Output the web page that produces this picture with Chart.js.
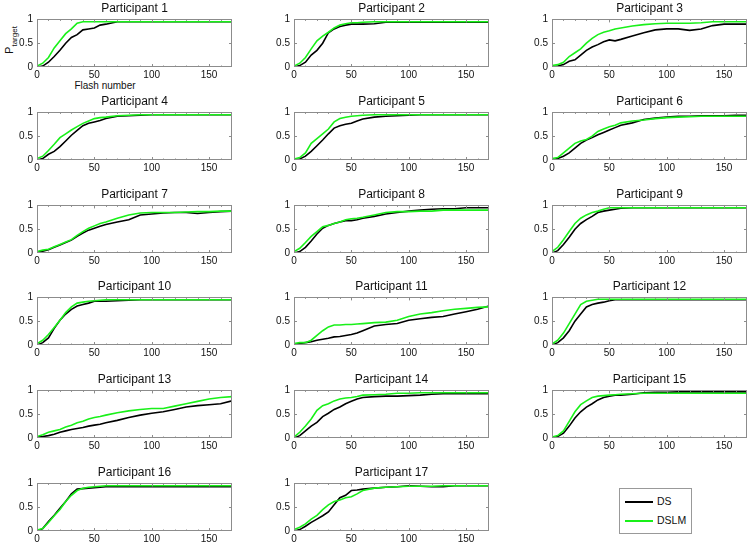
<!DOCTYPE html>
<html>
<head>
<meta charset="utf-8">
<script src="https://cdn.jsdelivr.net/npm/chart.js@4.4.0/dist/chart.umd.min.js"></script>
<style>
  body { margin: 0; background: #fff; overflow: hidden; font-family: "Liberation Sans", Arial, sans-serif; }
  #fig { position: relative; width: 750px; height: 546px; }
  .panel { position: absolute; }
  #ylab { position: absolute; left: 11px; top: 40px; white-space: nowrap; font-size: 11px; color: #111; transform: translate(-50%, -50%) rotate(-90deg); }
  #ylab sub { font-size: 8px; }
  #xlab { position: absolute; left: 70px; top: 80px; width: 70px; text-align: center; font-size: 10px; color: #111; }
  #legend { position: absolute; left: 619px; top: 488px; width: 71px; height: 44px; border: 1px solid #999; background: #fff; font-size: 10.5px; color: #111; }
  .row { position: absolute; left: 5px; height: 14px; line-height: 14px; }
  .row span.swatch { display: inline-block; width: 28px; height: 2px; vertical-align: middle; margin-right: 4px; }
</style>
</head>
<body>
<div id="fig">
  <div id="ylab">P<sub>target</sub></div>
  <div id="xlab">Flash number</div>
  <div id="legend"></div>
</div>
<script>
const seriesLabels = ["DS", "DSLM"];
const seriesColors = ["#000000", "#19f019"];

const participantNames = [
  "Participant 1", "Participant 2", "Participant 3", "Participant 4", "Participant 5",
  "Participant 6", "Participant 7", "Participant 8", "Participant 9", "Participant 10",
  "Participant 11", "Participant 12", "Participant 13", "Participant 14", "Participant 15",
  "Participant 16", "Participant 17"
];

const flashNumbers = [0, 5, 10, 15, 20, 25, 30, 35, 40, 45, 50, 55, 60, 70, 80, 90, 100, 110, 120, 130, 140, 150, 160, 170];
const xTicks = [0, 50, 100, 150];
const yTicks = [0, 0.5, 1];

// P_target for the DS classifier, one row per participant
const dsCurves = [
  [0, 0.02, 0.1, 0.22, 0.35, 0.5, 0.62, 0.68, 0.78, 0.8, 0.82, 0.88, 0.9, 0.95, 0.95, 0.95, 0.95, 0.95, 0.95, 0.95, 0.95, 0.95, 0.95, 0.95],
  [0, 0.03, 0.1, 0.25, 0.35, 0.5, 0.72, 0.8, 0.85, 0.88, 0.9, 0.9, 0.9, 0.91, 0.94, 0.94, 0.94, 0.94, 0.94, 0.94, 0.94, 0.94, 0.94, 0.94],
  [0, 0.02, 0.05, 0.12, 0.15, 0.25, 0.35, 0.42, 0.47, 0.53, 0.57, 0.55, 0.58, 0.65, 0.72, 0.78, 0.8, 0.8, 0.77, 0.8, 0.87, 0.9, 0.9, 0.9],
  [0, 0.03, 0.12, 0.18, 0.28, 0.4, 0.52, 0.62, 0.72, 0.77, 0.8, 0.83, 0.87, 0.92, 0.93, 0.94, 0.95, 0.95, 0.95, 0.95, 0.95, 0.95, 0.95, 0.95],
  [0, 0.02, 0.08, 0.18, 0.3, 0.42, 0.55, 0.67, 0.72, 0.75, 0.77, 0.82, 0.86, 0.9, 0.92, 0.93, 0.94, 0.95, 0.95, 0.95, 0.95, 0.95, 0.95, 0.95],
  [0, 0.03, 0.08, 0.15, 0.25, 0.35, 0.42, 0.47, 0.53, 0.58, 0.63, 0.68, 0.73, 0.78, 0.85, 0.88, 0.9, 0.92, 0.92, 0.93, 0.93, 0.93, 0.94, 0.94],
  [0.02, 0.04, 0.07, 0.12, 0.17, 0.22, 0.27, 0.35, 0.42, 0.48, 0.52, 0.56, 0.6, 0.65, 0.7, 0.8, 0.82, 0.84, 0.85, 0.85, 0.83, 0.85, 0.87, 0.88],
  [0, 0.03, 0.12, 0.25, 0.4, 0.52, 0.58, 0.62, 0.65, 0.68, 0.68, 0.7, 0.73, 0.77, 0.82, 0.85, 0.88, 0.9, 0.92, 0.93, 0.93, 0.95, 0.95, 0.95],
  [0, 0.05, 0.18, 0.33, 0.5, 0.62, 0.7, 0.77, 0.85, 0.88, 0.9, 0.92, 0.94, 0.95, 0.95, 0.95, 0.95, 0.95, 0.95, 0.95, 0.95, 0.95, 0.95, 0.95],
  [0, 0.05, 0.15, 0.35, 0.52, 0.65, 0.75, 0.82, 0.85, 0.88, 0.92, 0.92, 0.92, 0.93, 0.94, 0.95, 0.95, 0.95, 0.95, 0.95, 0.95, 0.95, 0.95, 0.95],
  [0.02, 0.03, 0.05, 0.07, 0.1, 0.12, 0.14, 0.17, 0.18, 0.2, 0.22, 0.25, 0.3, 0.4, 0.43, 0.45, 0.52, 0.55, 0.58, 0.6, 0.65, 0.7, 0.75, 0.82],
  [0, 0.05, 0.15, 0.3, 0.5, 0.65, 0.8, 0.85, 0.88, 0.9, 0.93, 0.95, 0.95, 0.95, 0.95, 0.95, 0.95, 0.95, 0.95, 0.95, 0.95, 0.95, 0.95, 0.95],
  [0.02, 0.03, 0.05, 0.08, 0.12, 0.15, 0.18, 0.2, 0.22, 0.25, 0.27, 0.29, 0.32, 0.37, 0.43, 0.48, 0.52, 0.55, 0.6, 0.65, 0.68, 0.7, 0.72, 0.78],
  [0, 0.05, 0.15, 0.25, 0.33, 0.45, 0.52, 0.6, 0.65, 0.72, 0.77, 0.82, 0.85, 0.87, 0.88, 0.88, 0.89, 0.9, 0.92, 0.93, 0.93, 0.93, 0.93, 0.93],
  [0, 0.03, 0.1, 0.25, 0.42, 0.55, 0.65, 0.72, 0.8, 0.85, 0.88, 0.9, 0.9, 0.92, 0.95, 0.96, 0.96, 0.97, 0.97, 0.97, 0.97, 0.97, 0.97, 0.97],
  [0, 0.05, 0.2, 0.33, 0.48, 0.62, 0.78, 0.88, 0.89, 0.9, 0.91, 0.92, 0.93, 0.93, 0.93, 0.93, 0.93, 0.93, 0.93, 0.93, 0.93, 0.93, 0.93, 0.93],
  [0, 0.03, 0.1, 0.18, 0.25, 0.32, 0.4, 0.55, 0.7, 0.75, 0.85, 0.86, 0.88, 0.9, 0.92, 0.93, 0.95, 0.94, 0.93, 0.93, 0.95, 0.95, 0.95, 0.95]
];

// P_target for the DSLM classifier
const dslmCurves = [
  [0.02, 0.08, 0.2, 0.4, 0.55, 0.7, 0.8, 0.92, 0.95, 0.95, 0.95, 0.95, 0.95, 0.95, 0.95, 0.95, 0.95, 0.95, 0.95, 0.95, 0.95, 0.95, 0.95, 0.95],
  [0.02, 0.08, 0.2, 0.38, 0.55, 0.65, 0.73, 0.82, 0.88, 0.91, 0.93, 0.93, 0.94, 0.95, 0.95, 0.95, 0.95, 0.95, 0.95, 0.95, 0.95, 0.95, 0.95, 0.95],
  [0.03, 0.05, 0.1, 0.22, 0.3, 0.38, 0.5, 0.6, 0.68, 0.73, 0.76, 0.8, 0.82, 0.86, 0.89, 0.91, 0.92, 0.92, 0.92, 0.93, 0.95, 0.95, 0.95, 0.95],
  [0.03, 0.08, 0.2, 0.33, 0.47, 0.55, 0.63, 0.7, 0.77, 0.82, 0.87, 0.89, 0.9, 0.93, 0.94, 0.95, 0.95, 0.95, 0.95, 0.95, 0.95, 0.95, 0.95, 0.95],
  [0.02, 0.05, 0.15, 0.35, 0.45, 0.55, 0.65, 0.8, 0.87, 0.9, 0.92, 0.93, 0.94, 0.95, 0.95, 0.95, 0.95, 0.95, 0.95, 0.95, 0.95, 0.95, 0.95, 0.95],
  [0.03, 0.05, 0.15, 0.25, 0.35, 0.4, 0.43, 0.5, 0.6, 0.65, 0.7, 0.73, 0.78, 0.82, 0.84, 0.87, 0.89, 0.9, 0.91, 0.92, 0.92, 0.92, 0.92, 0.92],
  [0.03, 0.06, 0.08, 0.13, 0.18, 0.23, 0.28, 0.37, 0.45, 0.52, 0.57, 0.62, 0.65, 0.73, 0.8, 0.84, 0.85, 0.85, 0.85, 0.86, 0.87, 0.87, 0.88, 0.88],
  [0.03, 0.1, 0.22, 0.35, 0.45, 0.55, 0.58, 0.62, 0.65, 0.7, 0.72, 0.73, 0.75, 0.8, 0.85, 0.87, 0.87, 0.88, 0.88, 0.9, 0.9, 0.9, 0.9, 0.9],
  [0.03, 0.12, 0.28, 0.45, 0.62, 0.73, 0.8, 0.85, 0.88, 0.92, 0.95, 0.95, 0.95, 0.95, 0.95, 0.95, 0.95, 0.95, 0.95, 0.95, 0.95, 0.95, 0.95, 0.95],
  [0.03, 0.1, 0.22, 0.37, 0.52, 0.68, 0.8, 0.88, 0.9, 0.92, 0.93, 0.94, 0.95, 0.95, 0.95, 0.95, 0.95, 0.95, 0.95, 0.95, 0.95, 0.95, 0.95, 0.95],
  [0.03, 0.05, 0.05, 0.1, 0.2, 0.3, 0.38, 0.42, 0.42, 0.43, 0.43, 0.44, 0.45, 0.47, 0.48, 0.52, 0.6, 0.65, 0.68, 0.72, 0.75, 0.77, 0.79, 0.8],
  [0.02, 0.1, 0.25, 0.45, 0.65, 0.85, 0.92, 0.94, 0.96, 0.96, 0.96, 0.96, 0.96, 0.96, 0.96, 0.96, 0.96, 0.96, 0.96, 0.96, 0.96, 0.96, 0.96, 0.96],
  [0.03, 0.07, 0.12, 0.15, 0.18, 0.23, 0.27, 0.32, 0.35, 0.4, 0.43, 0.45, 0.48, 0.53, 0.57, 0.6, 0.62, 0.62, 0.67, 0.72, 0.77, 0.82, 0.85, 0.87],
  [0.02, 0.12, 0.25, 0.4, 0.58, 0.68, 0.72, 0.78, 0.82, 0.84, 0.85, 0.87, 0.9, 0.91, 0.92, 0.94, 0.94, 0.95, 0.95, 0.95, 0.95, 0.95, 0.95, 0.95],
  [0.02, 0.05, 0.15, 0.35, 0.55, 0.7, 0.78, 0.85, 0.88, 0.89, 0.9, 0.91, 0.92, 0.93, 0.94, 0.94, 0.94, 0.94, 0.94, 0.94, 0.94, 0.94, 0.94, 0.94],
  [0.02, 0.05, 0.18, 0.32, 0.45, 0.62, 0.75, 0.85, 0.9, 0.92, 0.93, 0.94, 0.95, 0.95, 0.95, 0.95, 0.95, 0.95, 0.95, 0.95, 0.95, 0.95, 0.95, 0.95],
  [0.03, 0.08, 0.15, 0.25, 0.33, 0.45, 0.55, 0.62, 0.65, 0.7, 0.72, 0.78, 0.85, 0.9, 0.92, 0.93, 0.94, 0.94, 0.94, 0.95, 0.95, 0.95, 0.95, 0.95]
];

// subplot grid (plot-area corners in page pixels)
const colLeft = [37, 294, 552];
const rowTop = [19, 112, 205, 297, 390, 483];
const plotW = 195, plotH = 48;
const padL = 32, padT = 19, padR = 3, padB = 16;
const fontFamily = '"Liberation Sans", Arial, sans-serif';

// MATLAB-style box with inward ticks
const boxPlugin = {
  id: "matlabBox",
  afterDatasetsDraw(chart) {
    const { ctx, chartArea: a, scales: { x, y } } = chart;
    ctx.save();
    ctx.strokeStyle = "#8c8c8c";
    ctx.lineWidth = 1;
    ctx.strokeRect(Math.round(a.left) + 0.5, Math.round(a.top) + 0.5, Math.round(a.width) - 1, Math.round(a.height) - 1);
    ctx.beginPath();
    for (let v = 10; v < x.max; v += 10) {
      const px = Math.round(x.getPixelForValue(v)) + 0.5;
      const len = xTicks.includes(v) ? 3 : 1.5;
      ctx.moveTo(px, a.bottom); ctx.lineTo(px, a.bottom - len);
      ctx.moveTo(px, a.top); ctx.lineTo(px, a.top + len);
    }
    yTicks.forEach(v => {
      if (v <= y.min || v >= y.max) return;
      const py = Math.round(y.getPixelForValue(v)) + 0.5;
      ctx.moveTo(a.left, py); ctx.lineTo(a.left + 3, py);
      ctx.moveTo(a.right, py); ctx.lineTo(a.right - 3, py);
    });
    ctx.stroke();
    ctx.restore();
  }
};

const fig = document.getElementById("fig");

participantNames.forEach((name, i) => {
  const col = i % 3, row = Math.floor(i / 3);
  const holder = document.createElement("div");
  holder.className = "panel";
  holder.style.left = (colLeft[col] - padL) + "px";
  holder.style.top = (rowTop[row] - padT) + "px";
  const canvas = document.createElement("canvas");
  canvas.width = padL + plotW + padR;
  canvas.height = padT + plotH + padB;
  holder.appendChild(canvas);
  fig.appendChild(holder);

  new Chart(canvas.getContext("2d"), {
    type: "line",
    data: {
      datasets: [
        {
          label: seriesLabels[0],
          data: flashNumbers.map((f, k) => ({ x: f, y: dsCurves[i][k] })),
          borderColor: seriesColors[0],
          borderWidth: 1.6,
          order: 1,
        },
        {
          label: seriesLabels[1],
          data: flashNumbers.map((f, k) => ({ x: f, y: dslmCurves[i][k] })),
          borderColor: seriesColors[1],
          borderWidth: 1.6,
          order: 0,
        },
      ],
    },
    options: {
      responsive: false,
      animation: false,
      events: [],
      elements: { point: { radius: 0 }, line: { tension: 0 } },
      layout: { padding: { left: 0, right: padR, top: 0, bottom: 0 } },
      plugins: {
        legend: { display: false },
        tooltip: { enabled: false },
        title: {
          display: true,
          text: name,
          fullSize: false,
          color: "#111",
          font: { family: fontFamily, size: 12, weight: "normal", lineHeight: 1.2 },
          padding: { top: 1, bottom: 4 },
        },
      },
      scales: {
        x: {
          type: "linear",
          min: 0,
          max: 170,
          grid: { display: false, drawTicks: false },
          border: { display: false },
          afterBuildTicks: (s) => { s.ticks = xTicks.map(v => ({ value: v })); },
          afterFit: (s) => { s.height = padB; },
          ticks: { color: "#111", padding: 2, maxRotation: 0, font: { family: fontFamily, size: 10 } },
        },
        y: {
          min: 0,
          max: 1,
          grid: { display: false, drawTicks: false },
          border: { display: false },
          afterBuildTicks: (s) => { s.ticks = yTicks.map(v => ({ value: v })); },
          afterFit: (s) => { s.width = padL; },
          ticks: { color: "#111", padding: 4, font: { family: fontFamily, size: 10 }, callback: (v) => String(v) },
        },
      },
    },
    plugins: [boxPlugin],
  });
});

// legend box
const legend = document.getElementById("legend");
seriesLabels.forEach((lab, k) => {
  const r = document.createElement("div");
  r.className = "row";
  r.style.top = (5 + k * 19) + "px";
  r.innerHTML = '<span class="swatch" style="background:' + seriesColors[k] + '"></span>' + lab;
  legend.appendChild(r);
});
</script>
</body>
</html>
